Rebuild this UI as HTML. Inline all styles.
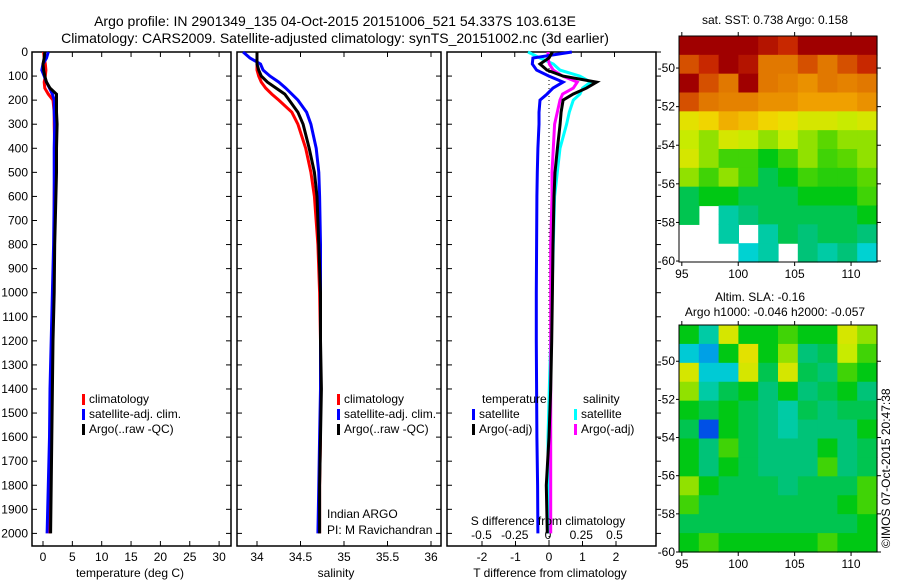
<!DOCTYPE html>
<html><head><meta charset="utf-8"><style>
body{margin:0;background:#fff}
svg{display:block;font-family:"Liberation Sans",sans-serif}
</style></head><body>
<svg id="fig" xmlns="http://www.w3.org/2000/svg" width="900" height="580" viewBox="0 0 900 580">
<text x="335" y="26" font-size="14" text-anchor="middle">Argo profile: IN 2901349_135 04-Oct-2015 20151006_521 54.337S 103.613E</text>
<text x="335" y="43" font-size="14" text-anchor="middle">Climatology: CARS2009. Satellite-adjusted climatology: synTS_20151002.nc (3d earlier)</text>
<text x="775" y="24" font-size="12" text-anchor="middle">sat. SST: 0.738 Argo: 0.158</text>
<text x="760" y="301" font-size="12" text-anchor="middle">Altim. SLA: -0.16</text>
<text x="775" y="316" font-size="12" text-anchor="middle">Argo h1000: -0.046 h2000: -0.057</text>
<text transform="translate(890,548) rotate(-90)" font-size="12">©IMOS 07-Oct-2015 20:47:38</text>
<g id="g"></g>
</svg>
<script>
// ---- data ----
const depths=[0,25,50,75,100,125,150,175,200,250,300,400,500,600,800,1000,1200,1400,1600,1800,2000];
const tempClim=[0.1,0.2,0.4,0.5,0.4,0.2,0.3,0.9,1.7,1.9,1.9,2.0,2.0,1.9,1.9,1.8,1.6,1.5,1.4,1.3,1.1];
const tempSat=[0.9,0.6,0.0,-0.2,0.2,0.6,1.1,1.6,1.9,1.9,2.0,1.9,1.9,1.9,1.8,1.6,1.4,1.2,1.1,0.9,0.7];
const tempArgo=[0.3,0.2,0.0,0.1,0.3,0.6,1.2,2.3,2.3,2.3,2.4,2.3,2.3,2.2,2.0,1.9,1.7,1.6,1.5,1.4,1.3];
const salClim=[34.0,34.0,34.0,34.0,34.02,34.05,34.1,34.17,34.25,34.40,34.47,34.56,34.62,34.66,34.70,34.72,34.73,34.73,34.73,34.72,34.72];
const salSat=[33.84,33.92,34.04,34.07,34.15,34.25,34.33,34.40,34.47,34.57,34.62,34.68,34.71,34.72,34.73,34.73,34.73,34.73,34.72,34.71,34.70];
const salArgo=[34.0,34.0,34.0,34.02,34.05,34.12,34.22,34.32,34.37,34.47,34.53,34.60,34.66,34.69,34.71,34.73,34.73,34.74,34.73,34.72,34.72];
const tDiffSat=[0.68,-0.48,-0.5,-0.37,0.0,0.42,0.12,-0.06,-0.27,-0.3,-0.3,-0.33,-0.35,-0.36,-0.37,-0.38,-0.38,-0.37,-0.36,-0.34,-0.33];
const tDiffArgo=[0.1,0.0,-0.27,-0.06,0.42,1.42,1.12,0.72,0.42,0.36,0.33,0.25,0.18,0.15,0.12,0.1,0.08,0.05,0.0,-0.08,-0.05];
const sDiffSat=[-0.15,-0.06,0.04,0.09,0.24,0.32,0.26,0.24,0.19,0.16,0.14,0.09,0.07,0.05,0.04,0.03,0.02,0.01,0.0,0.0,0.0];
const sDiffArgo=[0,0,0.01,0.04,0.11,0.22,0.19,0.11,0.09,0.07,0.05,0.04,0.03,0.03,0.02,0.02,0.02,0.02,0.02,0.02,0.02];
const depthTicks=[0,100,200,300,400,500,600,700,800,900,1000,1100,1200,1300,1400,1500,1600,1700,1800,1900,2000];
const tempTicks=[0,5,10,15,20,25,30];
const salTicks=[34,34.5,35,35.5,36];
const salTickLabels=["34","34.5","35","35.5","36"];
const tDiffTicks=[-2,-1,0,1,2];
const sDiffTicks=[-0.5,-0.25,0,0.25,0.5];
const sDiffTickLabels=["-0.5","-0.25","0","0.25","0.5"];
const lonTicks=[95,100,105,110];
const latTicks=[-50,-52,-54,-56,-58,-60];
const sstGrid=[
[1,1,1,1,.95,.9,1,1,1,1],
[.85,.9,1,.95,.8,.8,.85,.8,.85,.9],
[1,.85,.8,1,.8,.78,.75,.8,.78,.8],
[.85,.8,.78,.78,.75,.75,.72,.72,.72,.75],
[.62,.65,.7,.68,.65,.63,.6,.6,.58,.6],
[.58,.55,.6,.58,.55,.58,.55,.52,.55,.55],
[.6,.55,.5,.5,.45,.5,.55,.5,.52,.55],
[.55,.5,.55,.5,.42,.45,.5,.48,.48,.52],
[.42,.45,.45,.42,.42,.42,.45,.45,.45,.5],
[.42,null,.38,.4,.42,.42,.42,.42,.42,.45],
[null,null,.38,null,.38,.42,.4,.42,.42,.4],
[null,null,null,.36,.38,null,.4,.38,.4,.36]];
const slaGrid=[
[.45,.38,.6,.45,.45,.5,.45,.45,.6,.55],
[.35,.3,.45,.62,.45,.55,.4,.42,.58,.5],
[.6,.35,.35,.6,.42,.6,.42,.4,.5,.45],
[.55,.38,.42,.45,.4,.45,.4,.42,.45,.4],
[.45,.42,.45,.42,.4,.38,.42,.4,.42,.42],
[.42,.22,.45,.42,.4,.38,.4,.4,.4,.45],
[.45,.4,.5,.42,.4,.4,.4,.45,.4,.42],
[.45,.4,.45,.42,.4,.4,.4,.5,.4,.42],
[.55,.45,.42,.42,.42,.4,.42,.42,.42,.5],
[.5,.42,.42,.42,.42,.42,.42,.42,.45,.5],
[.42,.42,.42,.42,.42,.42,.42,.42,.42,.45],
[.45,.5,.45,.45,.45,.45,.45,.5,.45,.45]];

// ---- helpers ----
const NS="http://www.w3.org/2000/svg";
const G=document.getElementById('g');
function mk(tag,attrs,parent){const e=document.createElementNS(NS,tag);for(const k in attrs)e.setAttribute(k,attrs[k]);(parent||G).appendChild(e);return e;}
function txt(x,y,s,size,anchor,parent){const t=mk('text',{x:x,y:y,'font-size':size,'text-anchor':anchor||'middle'},parent);t.textContent=s;return t;}
const yTop=52,yBot=546;
const yDepth=d=>yTop+d*0.2407;
const xTemp=v=>43+5.87*v;
const xSal=v=>257+87*(v-34);
const xTd=v=>549+33.5*v;
const xSd=v=>548+133*v;

function frame(x0,x1,name){const r=mk('rect',{x:x0,y:yTop,width:x1-x0,height:yBot-yTop,fill:'none',stroke:'#000','stroke-width':1.5});

}
function line(xs,fx,color,name){
  const pts=xs.map((v,i)=>fx(v).toFixed(1)+','+yDepth(depths[i]).toFixed(1)).join(' ');
  const p=mk('polyline',{points:pts,fill:'none',stroke:color,'stroke-width':3,'stroke-linejoin':'miter'});
  
  
}
function xTicks(vals,labels,fx,side,withLabel){
  vals.forEach((v,i)=>{const x=fx(v);
    if(side!=='top'){mk('line',{x1:x,x2:x,y1:yBot,y2:yBot-5,stroke:'#000'});}
    if(side!=='bottom'){mk('line',{x1:x,x2:x,y1:yTop,y2:yTop+5,stroke:'#000'});}
    if(withLabel){const t=txt(x,561,labels[i],12);
      
      }
  });
}
function legend(x,y,items){
  items.forEach((it,i)=>{mk('rect',{x:x,y:y+i*15-9,width:3,height:11,fill:it[1]});
    const t=txt(x+7,y+i*15,it[0],12,'start');
    
    });
}

// ---- panel 1: temperature ----
frame(32,231,'temperature-panel');
depthTicks.forEach(d=>{const y=yDepth(d);mk('line',{x1:32,x2:37,y1:y,y2:y,stroke:'#000'});mk('line',{x1:231,x2:226,y1:y,y2:y,stroke:'#000'});
  mk('line',{x1:237,x2:242,y1:y,y2:y,stroke:'#000'});mk('line',{x1:441,x2:436,y1:y,y2:y,stroke:'#000'});
  mk('line',{x1:447,x2:452,y1:y,y2:y,stroke:'#000'});mk('line',{x1:656,x2:661,y1:y,y2:y,stroke:'#000'});
  const t=txt(28,y+4,String(d),12,'end');
  
  });
xTicks(tempTicks,tempTicks.map(String),xTemp,'both',true);
line(tempClim,xTemp,'#ff0000','temp-climatology-line');
line(tempSat,xTemp,'#0000ff','temp-satellite-line');
line(tempArgo,xTemp,'#000000','temp-argo-line');
legend(82,403,[['climatology','#f00'],['satellite-adj. clim.','#00f'],['Argo(..raw -QC)','#000']]);
txt(130,577,'temperature (deg C)',12);

// ---- panel 2: salinity ----
frame(237,441,'salinity-panel');
xTicks(salTicks,salTickLabels,xSal,'both',true);
line(salClim,xSal,'#ff0000','sal-climatology-line');
line(salSat,xSal,'#0000ff','sal-satellite-line');
line(salArgo,xSal,'#000000','sal-argo-line');
legend(337,403,[['climatology','#f00'],['satellite-adj. clim.','#00f'],['Argo(..raw -QC)','#000']]);
txt(327,518,'Indian ARGO',12,'start');
txt(327,534,'PI: M Ravichandran',12,'start');
txt(336,577,'salinity',12);

// ---- panel 3: differences ----
frame(447,656,'difference-panel');
xTicks(tDiffTicks,tDiffTicks.map(String),xTd,'bottom',true);
xTicks(sDiffTicks,sDiffTickLabels,xSd,'top',false);
sDiffTicks.forEach((v,i)=>{const t=txt(xSd(v),539,sDiffTickLabels[i],12);
  
  });
mk('line',{x1:xTd(0),x2:xTd(0),y1:yTop,y2:yBot,stroke:'#000','stroke-dasharray':'1,3'});
line(sDiffSat,xSd,'#00ffff','sdiff-satellite-line');
line(sDiffArgo,xSd,'#ff00ff','sdiff-argo-line');
line(tDiffSat,xTd,'#0000ff','tdiff-satellite-line');
line(tDiffArgo,xTd,'#000000','tdiff-argo-line');
txt(482,403,'temperature',12,'start');
txt(583,403,'salinity',12,'start');
legend(472,418,[['satellite','#00f'],['Argo(-adj)','#000']]);
legend(574,418,[['satellite','#0ff'],['Argo(-adj)','#f0f']]);
txt(548,525,'S difference from climatology',12);
txt(550,577,'T difference from climatology',12);

// ---- maps ----
const cmapStops=[[0,0,0,140],[0.22,0,80,230],[0.3,0,160,230],[0.36,0,210,210],[0.40,0,195,120],[0.45,0,200,20],[0.52,90,215,0],[0.58,200,235,0],[0.64,240,220,0],[0.72,240,160,0],[0.8,225,120,0],[0.9,200,40,0],[1,160,0,0]];
function cmap(v){
  for(let i=1;i<cmapStops.length;i++){const a=cmapStops[i-1],b=cmapStops[i];
    if(v<=b[0]){const t=(v-a[0])/(b[0]-a[0]);
      return 'rgb('+[1,2,3].map(k=>Math.round(a[k]+(b[k]-a[k])*t)).join(',')+')';}}
  return 'rgb(160,0,0)';
}
function map(grid,x0,x1,y0,y1,latTop,latBot,name){
  const grp=mk('g',{});
  
  
  const rows=grid.length,cols=grid[0].length,cw=(x1-x0)/cols,rh=(y1-y0)/rows;
  grid.forEach((row,r)=>row.forEach((v,c)=>{if(v===null)return;
    const cell=mk('rect',{x:x0+c*cw,y:y0+r*rh,width:cw+0.6,height:rh+0.6,fill:cmap(v)},grp);
    
    }));
  mk('rect',{x:x0,y:y0,width:x1-x0,height:y1-y0,fill:'none',stroke:'#000'},grp);
  const fx=l=>x0+(l-94.75)*(x1-x0)/(112.3-94.75);
  const fy=l=>y0+(latTop-l)*(y1-y0)/(latTop-latBot);
  lonTicks.forEach(l=>{const x=fx(l);mk('line',{x1:x,x2:x,y1:y1,y2:y1+4,stroke:'#000'},grp);mk('line',{x1:x,x2:x,y1:y0,y2:y0-4,stroke:'#000'},grp);
    const t=txt(x,y1+16,String(l),12,'middle',grp);});
  latTicks.forEach(l=>{const y=fy(l);mk('line',{x1:x1,x2:x1+4,y1:y,y2:y,stroke:'#000'},grp);mk('line',{x1:x0,x2:x0-3,y1:y,y2:y,stroke:'#000'},grp);
    const t=txt(x0-4,y+4,String(l),12,'end',grp);});
}
map(sstGrid,679,877,36,262,-48.34,-60.05,'sst-map');
map(slaGrid,679,877,325,552,-48.1,-60,'sla-map');
</script>
</body></html>
